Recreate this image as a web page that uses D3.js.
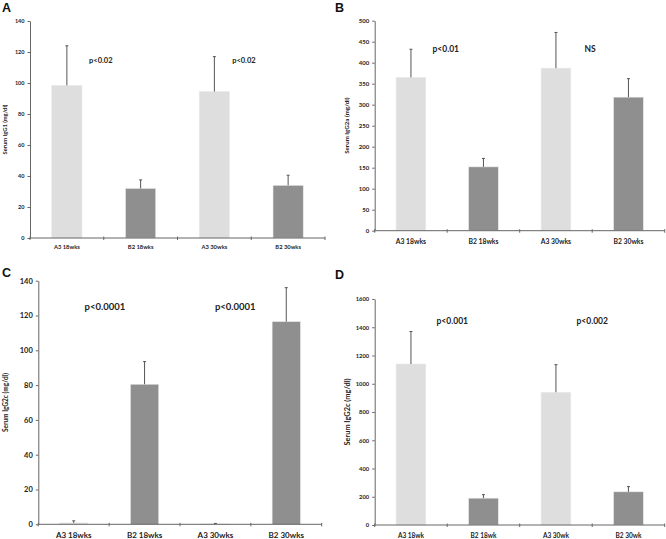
<!DOCTYPE html>
<html><head><meta charset="utf-8">
<script src="https://cdn.jsdelivr.net/npm/d3@7"></script>
<style>body{margin:0;background:#fff}svg{display:block}</style>
</head><body>
<svg id="c" width="666" height="539"></svg>
<script>
// ---- data ----
const categoriesWks = ["A3 18wks", "B2 18wks", "A3 30wks", "B2 30wks"];
const categoriesWk = ["A3 18wk", "B2 18wk", "A3 30wk", "B2 30wk"];
const barGroups = ["A3", "B2", "A3", "B2"];

const iggA_mean = [98.5, 32, 94.5, 34];
const iggA_err = [25.5, 5.5, 22.5, 6.5];
const iggA_ticks = [0, 20, 40, 60, 80, 100, 120, 140];
const iggA_p = ["p<0.02", "p<0.02"];

const iggB_mean = [365, 152, 387, 318];
const iggB_err = [67, 20, 85, 44];
const iggB_ticks = [0, 50, 100, 150, 200, 250, 300, 350, 400, 450, 500];
const iggB_p = ["p<0.01", "NS"];

const iggC_mean = [0.8, 80.5, 0.2, 116.5];
const iggC_err = [1.2, 13, 0.3, 19.5];
const iggC_ticks = [0, 20, 40, 60, 80, 100, 120, 140];
const iggC_p = ["p<0.0001", "p<0.0001"];

const iggD_mean = [1140, 190, 940, 235];
const iggD_err = [230, 25, 195, 37];
const iggD_ticks = [0, 200, 400, 600, 800, 1000, 1200, 1400, 1600];
const iggD_p = ["p<0.001", "p<0.002"];

// ---- layout ----
const panels = [
  {letter:"A", lx:2, ly:12, cats:categoriesWks, mean:iggA_mean, err:iggA_err, ticks:iggA_ticks,
   ylabel:"Serum IgG1 (mg/dl)", p:iggA_p, pPos:[0.96,2.9], pVal:114,
   x0:30, x1:325, yT:21, yB:238, tickFs:5.5, catFs:5.8, catY:249, pFs:7.5, ylFs:5.8, ylX:6, bw:0.41},
  {letter:"B", lx:335, ly:12, cats:categoriesWks, mean:iggB_mean, err:iggB_err, ticks:iggB_ticks,
   ylabel:"Serum IgG2a (mg/dl)", p:iggB_p, pPos:[0.98,2.97], pVal:430,
   x0:374.7, x1:664.7, yT:20.7, yB:230.7, tickFs:6, catFs:6.8, catY:244, pFs:8.5, ylFs:6.2, ylX:347, bw:0.41},
  {letter:"C", lx:2, ly:277, cats:categoriesWks, mean:iggC_mean, err:iggC_err, ticks:iggC_ticks,
   ylabel:"Serum IgG2c (mg/dl)", p:iggC_p, pPos:[0.94,2.78], pVal:124.5,
   x0:38.3, x1:321.7, yT:280.7, yB:524.3, tickFs:7.5, catFs:8, catY:538, pFs:9.5, ylFs:6.5, ylX:6, bw:0.4},
  {letter:"D", lx:335, ly:279, cats:categoriesWk, mean:iggD_mean, err:iggD_err, ticks:iggD_ticks,
   ylabel:"Serum IgG2c (mg/dl)", p:iggD_p, pPos:[1.07,3.0], pVal:1437,
   x0:374.7, x1:664.7, yT:299, yB:525, tickFs:5.8, catFs:6.5, catY:538, pFs:8.5, ylFs:7.4, ylX:348, bw:0.41}
];

const colors = {A3:"#dedede", B2:"#8f8f8f"};
const axisColor = "#666";
const font = "Lato, 'Open Sans', sans-serif";
const svg = d3.select("#c");

panels.forEach(P => {
  const g = svg.append("g");
  const x = d3.scaleBand().domain(P.cats).range([P.x0, P.x1]).paddingInner(0).paddingOuter(0);
  const y = d3.scaleLinear().domain([0, d3.max(P.ticks)]).range([P.yB, P.yT]);
  const bw = x.bandwidth() * P.bw;

  svg.append("text").attr("x", P.lx).attr("y", P.ly).text(P.letter)
    .attr("font-family", "Arial, 'Liberation Sans', sans-serif").attr("font-weight", "bold")
    .attr("font-size", 12.5).attr("fill", "#111");

  g.selectAll("rect.bar").data(P.mean).enter().append("rect")
    .attr("x", (d,i) => x(P.cats[i]) + x.bandwidth()/2 - bw/2)
    .attr("y", d => y(d))
    .attr("width", bw)
    .attr("height", d => y(0) - y(d))
    .attr("fill", (d,i) => colors[barGroups[i]])
    .attr("stroke", "#eaeaea").attr("stroke-width", 0.6);

  P.mean.forEach((m, i) => {
    const cx = x(P.cats[i]) + x.bandwidth()/2;
    g.append("line").attr("x1", cx).attr("x2", cx)
      .attr("y1", y(m)).attr("y2", y(m + P.err[i]))
      .attr("stroke", "#555").attr("stroke-width", 1);
    g.append("line").attr("x1", cx - 1.5).attr("x2", cx + 1.5)
      .attr("y1", y(m + P.err[i])).attr("y2", y(m + P.err[i]))
      .attr("stroke", "#555").attr("stroke-width", 1);
  });

  const ya = g.append("g").attr("transform", `translate(${P.x0},0)`)
    .call(d3.axisLeft(y).tickValues(P.ticks).tickFormat(d3.format("d"))
      .tickSize(2.5).tickSizeOuter(0).tickPadding(3));
  ya.select(".domain").attr("stroke", axisColor);
  ya.selectAll(".tick line").attr("stroke", axisColor);
  ya.selectAll("text").attr("font-family", font).attr("font-weight", "bold")
    .attr("font-size", P.tickFs).attr("fill", "#222");

  g.append("line").attr("x1", P.x0).attr("x2", P.x1).attr("y1", P.yB).attr("y2", P.yB)
    .attr("stroke", axisColor).attr("stroke-width", 1);
  const bounds = P.cats.map(c => x(c)).concat([P.x1]);
  g.selectAll("line.xt").data(bounds).enter().append("line")
    .attr("x1", d => d).attr("x2", d => d).attr("y1", P.yB - 1.5).attr("y2", P.yB + 2)
    .attr("stroke", axisColor);
  g.selectAll("text.cat").data(P.cats).enter().append("text")
    .attr("x", d => x(d) + x.bandwidth()/2).attr("y", P.catY)
    .attr("text-anchor", "middle").text(d => d)
    .attr("font-family", font).attr("font-weight", "bold")
    .attr("font-size", P.catFs).attr("fill", "#222");

  const ymid = (P.yT + P.yB) / 2;
  g.append("text").attr("transform", `translate(${P.ylX},${ymid}) rotate(-90)`)
    .attr("text-anchor", "middle").attr("dominant-baseline", "middle").text(P.ylabel)
    .attr("font-family", font).attr("font-weight", "bold")
    .attr("font-size", P.ylFs).attr("fill", "#222");

  P.p.forEach((t, i) => {
    g.append("text").attr("x", P.x0 + x.bandwidth() * P.pPos[i]).attr("y", y(P.pVal))
      .attr("text-anchor", "middle").attr("dominant-baseline", "middle").text(t)
      .attr("font-family", font).attr("font-weight", "bold")
      .attr("font-size", P.pFs).attr("fill", "#222");
  });
});
</script>
</body></html>
